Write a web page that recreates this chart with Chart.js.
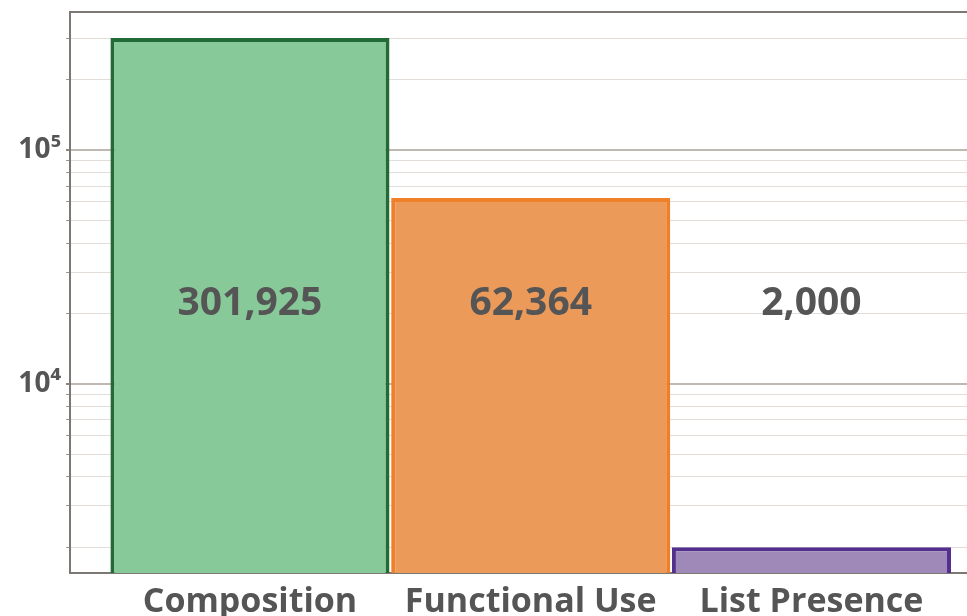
<!DOCTYPE html>
<html>
<head>
<meta charset="utf-8">
<script src="https://cdn.jsdelivr.net/npm/chart.js@4.4.1/dist/chart.umd.min.js"></script>
<style>
  html, body { margin: 0; padding: 0; background: #fff; }
  #wrap { width: 967px; height: 616px; }
</style>
</head>
<body>
<div id="wrap"><canvas id="chart" width="967" height="616"></canvas></div>
<script>
// data
const categories = ['Composition', 'Functional Use', 'List Presence'];
const counts = [301925, 62364, 2000];
const yMin = 1550;
const yMax = 390000;
const gridValues = [2000, 3000, 4000, 5000, 6000, 7000, 8000, 9000,
    10000, 20000, 30000, 40000, 50000, 60000, 70000, 80000, 90000,
    100000, 200000, 300000];
const labelledTicks = { 10000: '10⁴', 100000: '10⁵' };

const fills = ['#88c999', '#ec9a59', '#9e89b8'];
const edges = ['#226a36', '#f07f2a', '#53308d'];
const textGrey = '#555555';
const frameGrey = '#7c7874';

// value labels written in the middle of each column
const valueLabels = {
    id: 'valueLabels',
    afterDatasetsDraw(chart) {
        const { ctx, chartArea } = chart;
        const meta = chart.getDatasetMeta(0);
        const y = chartArea.top + (chartArea.bottom - chartArea.top) * 0.52;
        ctx.save();
        ctx.font = 'bold 39px "Open Sans"';
        ctx.fillStyle = textGrey;
        ctx.textAlign = 'center';
        ctx.textBaseline = 'middle';
        meta.data.forEach((bar, i) => {
            ctx.fillText(counts[i].toLocaleString('en-US'), bar.x, y);
        });
        ctx.restore();
    }
};

const isMajor = v => Math.abs(Math.log10(v) - Math.round(Math.log10(v))) < 1e-9;

new Chart(document.getElementById('chart'), {
    type: 'bar',
    data: {
        datasets: [{
            data: categories.map((c, i) => ({ x: i, y: counts[i] })),
            backgroundColor: fills,
            borderColor: edges,
            borderWidth: 4,
            barPercentage: 1,
            categoryPercentage: 0.994
        }]
    },
    options: {
        responsive: false,
        devicePixelRatio: 1,
        animation: false,
        layout: { padding: { top: 12, right: 0, left: 0, bottom: 0 } },
        plugins: { legend: { display: false }, tooltip: { enabled: false } },
        scales: {
            x: {
                type: 'linear',
                offset: false,
                min: -0.641,
                max: 2.554,
                afterBuildTicks: s => { s.ticks = categories.map((c, i) => ({ value: i })); },
                afterFit: s => { s.height = 43; s.paddingLeft = 0; s.paddingRight = 0; },
                grid: { display: false },
                border: { color: frameGrey, width: 2 },
                ticks: {
                    padding: 1,
                    color: textGrey,
                    maxRotation: 0,
                    font: { family: 'Open Sans', size: 34, weight: 'bold' },
                    callback: v => categories[v] ?? ''
                }
            },
            y: {
                type: 'logarithmic',
                min: yMin,
                max: yMax,
                // light lines for every 1..9 step, the top bound closes the frame
                afterBuildTicks: s => {
                    s.ticks = gridValues.concat([yMax]).map(v => ({ value: v, major: isMajor(v) }));
                },
                afterFit: s => { s.width = 70; s.paddingTop = 0; s.paddingBottom = 0; },
                border: { color: frameGrey, width: 2 },
                grid: {
                    color: c => c.tick.value === yMax ? frameGrey : (isMajor(c.tick.value) ? '#c0b9b2' : '#e2ddd9'),
                    lineWidth: c => (c.tick.value === yMax || isMajor(c.tick.value)) ? 2 : 1,
                    tickColor: c => c.tick.value === yMax ? 'rgba(0,0,0,0)' : (isMajor(c.tick.value) ? '#8a8580' : '#9a9590'),
                    tickLength: 4
                },
                ticks: {
                    padding: 5,
                    color: textGrey,
                    autoSkip: false,
                    font: { family: 'Open Sans', size: 28, weight: 'bold' },
                    callback: v => labelledTicks[v] ?? ''
                }
            }
        }
    },
    plugins: [valueLabels]
});
</script>
</body>
</html>
